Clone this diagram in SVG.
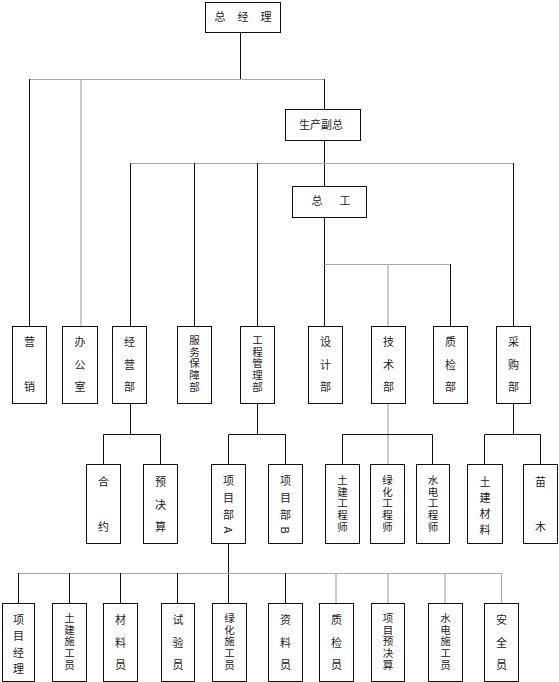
<svg xmlns="http://www.w3.org/2000/svg" width="559" height="682" viewBox="0 0 559 682">
<style>
.box{fill:#fff;stroke:#111;stroke-width:1}
.k{stroke:#111;stroke-width:1;fill:none}
.g{stroke:#aaa;stroke-width:1.2;fill:none}
text{font-family:"Noto Sans CJK SC","Noto Sans",sans-serif;font-size:11px;fill:#222}
.h{text-anchor:middle;dominant-baseline:central}
.v{writing-mode:vertical-rl;text-anchor:start}
.s2{letter-spacing:34px}
.s3{letter-spacing:11.5px}
.s4{letter-spacing:5px}
.s4a{letter-spacing:6px}
.s5{font-size:10.5px;letter-spacing:1.25px}
</style>
<rect width="559" height="682" fill="#fff"/>
<g id="connectors">
<path class="k" d="M240.5 32V79"/>
<path class="g" d="M29 79.5H324"/>
<path class="k" d="M29.5 79V326"/>
<path class="g" d="M81 79V326"/>
<path class="k" d="M324.5 79V109M324.5 140V186"/>
<path class="g" d="M130 163.5H513.5"/>
<path class="k" d="M130.5 163V326M194.5 163V326M257.5 163V326M513.5 163V326"/>
<path class="k" d="M324.5 217V326"/>
<path class="g" d="M324.5 264.5H450.5"/>
<path class="g" d="M388 264V326"/>
<path class="k" d="M450.5 264V326"/>
<path class="k" d="M130.5 403V434.5M103.5 464V434.5H160.5V464"/>
<path class="k" d="M257.5 403V434.5M228.5 464V434.5H285.5V464"/>
<path class="g" d="M388 403V464"/>
<path class="k" d="M342.5 464V434.5H432.5V464"/>
<path class="k" d="M513.5 403V434.5M484.5 464V434.5H540.5V464"/>
<path class="k" d="M228.5 543V603"/>
<path class="g" d="M18 573.5H502"/>
<path class="k" d="M18.5 573V603M69.5 573V603M120.5 573V603M177.5 573V603M285.5 573V603"/>
<path class="g" d="M336 573V603M388 573V603M445 573V603M501.5 573V603"/>
</g>
<g id="n-zjl"><rect class="box" x="205.5" y="2.5" width="75" height="30"/><text class="h" y="16"><tspan x="220">总</tspan><tspan x="243">经</tspan><tspan x="266">理</tspan></text></g>
<g id="n-scfz"><rect class="box" x="285.5" y="109.5" width="75" height="31"/><text class="h" x="321" y="124">生产副总</text></g>
<g id="n-zg"><rect class="box" x="292.5" y="186.5" width="74" height="31"/><text class="h" y="200"><tspan x="317">总</tspan><tspan x="345">工</tspan></text></g>

<g id="n-yx"><rect class="box" x="12.5" y="326.5" width="34" height="77"/><text class="v s2" x="29.5" y="336.5">营销</text></g>
<g id="n-bgs"><rect class="box" x="62.5" y="326.5" width="35" height="77"/><text class="v s3" x="80" y="336.5">办公室</text></g>
<g id="n-jyb"><rect class="box" x="112.5" y="326.5" width="34" height="77"/><text class="v s3" x="129.5" y="336.5">经营部</text></g>
<g id="n-fwbzb"><rect class="box" x="177.5" y="326.5" width="34" height="77"/><text class="v s5" x="194.5" y="334.75">服务保障部</text></g>
<g id="n-gcglb"><rect class="box" x="240.5" y="326.5" width="34" height="77"/><text class="v s5" x="257.5" y="334.75">工程管理部</text></g>
<g id="n-sjb"><rect class="box" x="308.5" y="326.5" width="34" height="77"/><text class="v s3" x="325.5" y="336.5">设计部</text></g>
<g id="n-jsb"><rect class="box" x="371.5" y="326.5" width="34" height="77"/><text class="v s3" x="388.5" y="336.5">技术部</text></g>
<g id="n-zjb"><rect class="box" x="433.5" y="326.5" width="34" height="77"/><text class="v s3" x="450.5" y="336.5">质检部</text></g>
<g id="n-cgb"><rect class="box" x="496.5" y="326.5" width="34" height="77"/><text class="v s3" x="513.5" y="336.5">采购部</text></g>

<g id="n-hy"><rect class="box" x="86.5" y="464.5" width="34" height="79"/><text class="v s2" x="103.5" y="476.5">合约</text></g>
<g id="n-yjs"><rect class="box" x="143.5" y="464.5" width="34" height="79"/><text class="v s3" x="160.5" y="476.5">预决算</text></g>
<g id="n-xmba"><rect class="box" x="211.5" y="464.5" width="34" height="79"/><text class="v s4a" x="228.5" y="475.5">项目部A</text></g>
<g id="n-xmbb"><rect class="box" x="268.5" y="464.5" width="34" height="79"/><text class="v s4a" x="285.5" y="475.5">项目部B</text></g>
<g id="n-tjgcs"><rect class="box" x="325.5" y="464.5" width="34" height="79"/><text class="v s5" x="342.5" y="474.75">土建工程师</text></g>
<g id="n-lhgcs"><rect class="box" x="370.5" y="464.5" width="34" height="79"/><text class="v s5" x="387.5" y="474.75">绿化工程师</text></g>
<g id="n-sdgcs"><rect class="box" x="416.5" y="464.5" width="33" height="79"/><text class="v s5" x="433" y="474.75">水电工程师</text></g>
<g id="n-tjcl"><rect class="box" x="467.5" y="464.5" width="35" height="79"/><text class="v s4" x="485" y="476.5">土建材料</text></g>
<g id="n-mm"><rect class="box" x="523.5" y="464.5" width="34" height="79"/><text class="v s2" x="540.5" y="476.5">苗木</text></g>

<g id="n-xmjl"><rect class="box" x="2.5" y="603.5" width="32" height="78"/><text class="v" style="letter-spacing:5.5px" x="18.5" y="614">项目经理</text></g>
<g id="n-tjsgy"><rect class="box" x="52.5" y="603.5" width="34" height="78"/><text class="v s5" x="69.5" y="612.75">土建施工员</text></g>
<g id="n-cly"><rect class="box" x="103.5" y="603.5" width="34" height="78"/><text class="v s3" x="120.5" y="614.5">材料员</text></g>
<g id="n-syy"><rect class="box" x="161.5" y="603.5" width="33" height="78"/><text class="v s3" x="178" y="614.5">试验员</text></g>
<g id="n-lhsgy"><rect class="box" x="212.5" y="603.5" width="34" height="78"/><text class="v s5" x="229.5" y="612.75">绿化施工员</text></g>
<g id="n-zly"><rect class="box" x="268.5" y="603.5" width="34" height="78"/><text class="v s3" x="285.5" y="614.5">资料员</text></g>
<g id="n-zjy"><rect class="box" x="319.5" y="603.5" width="34" height="78"/><text class="v s3" x="336.5" y="614.5">质检员</text></g>
<g id="n-xmyjs"><rect class="box" x="371.5" y="603.5" width="33" height="78"/><text class="v s5" x="388" y="612.75">项目预决算</text></g>
<g id="n-sdsgy"><rect class="box" x="428.5" y="603.5" width="34" height="78"/><text class="v s5" x="445.5" y="612.75">水电施工员</text></g>
<g id="n-aqy"><rect class="box" x="484.5" y="603.5" width="34" height="78"/><text class="v s3" x="501.5" y="614.5">安全员</text></g>
</svg>
